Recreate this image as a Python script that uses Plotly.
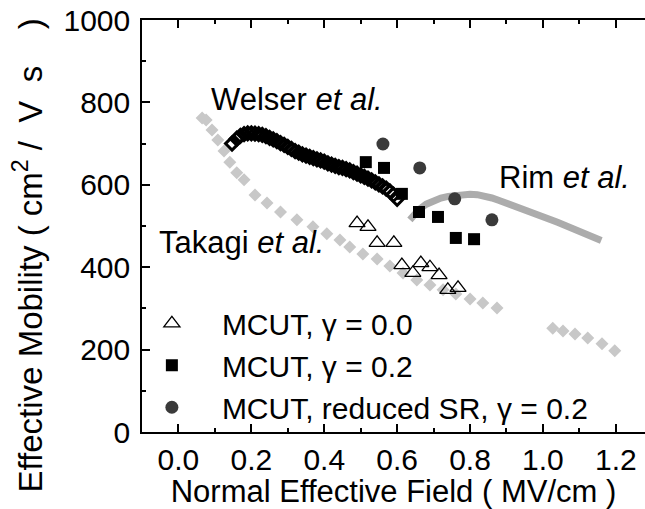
import plotly.graph_objects as go

# ---------------- data ----------------
takagi_x = [0.065, 0.076, 0.092, 0.108, 0.125, 0.141, 0.16, 0.18, 0.21, 0.243, 0.28, 0.325,
            0.369, 0.407, 0.443, 0.47, 0.506, 0.545, 0.58, 0.616, 0.654, 0.69, 0.726,
            0.761, 0.8, 0.835, 0.874, None, 1.027, 1.055, 1.088, 1.123, 1.162, 1.197]
takagi_y = [762, 757, 733, 709, 682, 655, 629, 612, 575, 556, 534, 515,
            498, 481, 466, 449, 432, 420, 403, 386, 369, 357, 345,
            335, 323, 313, 301, None, 252, 245, 238, 228, 214, 197]

welser_x = [0.147, 0.16, 0.17, 0.18, 0.19, 0.20, 0.21, 0.22, 0.23, 0.24, 0.25, 0.26, 0.27,
            0.28, 0.29, 0.30, 0.31, 0.32, 0.33, 0.34, 0.35, 0.36, 0.37, 0.38, 0.39, 0.40,
            0.41, 0.42, 0.43, 0.44, 0.45, 0.46, 0.47, 0.48, 0.49, 0.50, 0.51, 0.52, 0.53,
            0.54, 0.55, 0.56, 0.57, 0.58, 0.59, 0.60]
welser_y = [700, 712, 719, 723, 725, 725, 724, 723, 721, 718, 714, 710, 706,
            701, 697, 692, 687, 682, 678, 674, 671, 668, 665, 662, 659, 656,
            652, 649, 646, 643, 641, 638, 635, 631, 627, 623, 619, 615, 611,
            606, 601, 596, 591, 584, 576, 566]

rim_x = [0.635, 0.66, 0.68, 0.70, 0.72, 0.74, 0.76, 0.78, 0.80, 0.82, 0.84, 0.86, 0.88,
         0.90, 0.92, 0.94, 0.96, 0.98, 1.00, 1.02, 1.04, 1.06, 1.08, 1.10, 1.12, 1.14, 1.16]
rim_y = [515, 540, 553, 562, 568, 572, 575, 577, 577, 576, 573, 568, 562,
         556, 550, 544, 537, 530, 523, 516, 509, 501, 493, 485, 478, 471, 465]

mcut0_x = [0.49, 0.52, 0.545, 0.591, 0.613, 0.643, 0.665, 0.69, 0.715, 0.739, 0.767]
mcut0_y = [507, 498, 459, 459, 405, 386, 410, 400, 381, 345, 350]

mcut2_x = [0.514, 0.564, 0.613, 0.66, 0.712, 0.761, 0.811]
mcut2_y = [655, 641, 578, 534, 522, 471, 468]

mcutsr_x = [0.561, 0.662, 0.758, 0.86]
mcutsr_y = [699, 641, 566, 515]

x_ticks = [0.0, 0.2, 0.4, 0.6, 0.8, 1.0, 1.2]
x_ticklabels = ["0.0", "0.2", "0.4", "0.6", "0.8", "1.0", "1.2"]
y_ticks = [0, 200, 400, 600, 800, 1000]
y_ticklabels = ["0", "200", "400", "600", "800", "1000"]

# ---------------- figure ----------------
FONT = "Liberation Sans, Arial, sans-serif"
NB = "\u00a0"
fig = go.Figure()

fig.add_trace(go.Scatter(x=takagi_x, y=takagi_y, mode="markers", showlegend=False,
                         marker=dict(symbol="diamond", size=10, color="#c8c8c8"),
                         name="Takagi et al."))
fig.add_trace(go.Scatter(x=rim_x, y=rim_y, mode="lines", showlegend=False,
                         line=dict(color="#acacac", width=7), name="Rim et al."))
fig.add_trace(go.Scatter(x=welser_x, y=welser_y, mode="markers", showlegend=False,
                         marker=dict(symbol="diamond-open", size=10, color="black",
                                     line=dict(width=3, color="black")),
                         name="Welser et al."))
fig.add_trace(go.Scatter(x=mcut0_x, y=mcut0_y, mode="markers",
                         name="MCUT, γ = 0.0",
                         marker=dict(symbol="triangle-up-open", size=14, color="black",
                                     line=dict(width=1.3, color="black"))))
fig.add_trace(go.Scatter(x=mcut2_x, y=mcut2_y, mode="markers",
                         name="MCUT, γ = 0.2",
                         marker=dict(symbol="square", size=12, color="black")))
fig.add_trace(go.Scatter(x=mcutsr_x, y=mcutsr_y, mode="markers",
                         name="MCUT, reduced SR, γ = 0.2",
                         marker=dict(symbol="circle", size=13, color="#3a3a3a")))

ann_font = dict(family=FONT, size=31, color="black")
fig.add_annotation(x=0.084, y=806, text="Welser <i>et al.</i>", showarrow=False,
                   xanchor="left", yanchor="middle", font=ann_font)
fig.add_annotation(x=-0.058, y=461, text="Takagi <i>et al.</i>", showarrow=False,
                   xanchor="left", yanchor="middle", font=ann_font)
fig.add_annotation(x=0.874, y=617, text="Rim <i>et al.</i>", showarrow=False,
                   xanchor="left", yanchor="middle", font=ann_font)

# y-axis title (placed as a rotated annotation to match the reference offset)
y_title = "Effective Mobility (" + NB + "cm<sup>2</sup> /" + NB + " V" + NB + " s" + NB * 3 + " )"
fig.add_annotation(xref="paper", yref="paper", x=-0.227, y=0.428, text=y_title,
                   textangle=-90, showarrow=False, xanchor="center", yanchor="middle",
                   font=dict(family=FONT, size=33, color="black"))

axis_common = dict(
    showline=True, linecolor="black", linewidth=1.5,
    ticks="inside", ticklen=8, tickwidth=1.5, tickcolor="black",
    showgrid=False, zeroline=False,
    tickfont=dict(family=FONT, size=30, color="black"),
)

fig.update_xaxes(
    range=[-0.1, 1.28], tickmode="array", tickvals=x_ticks, ticktext=x_ticklabels,
    mirror="ticks",
    minor=dict(dtick=0.1, ticks="inside", ticklen=4, tickwidth=1.5, tickcolor="black"),
    title=dict(text="Normal Effective Field ( MV/cm )", standoff=6,
               font=dict(family=FONT, size=31, color="black")),
    **axis_common,
)
fig.update_yaxes(
    range=[0, 1000], tickmode="array", tickvals=y_ticks, ticktext=y_ticklabels,
    mirror=False,
    minor=dict(dtick=100, ticks="inside", ticklen=4, tickwidth=1.5, tickcolor="black"),
    ticklabelstandoff=4,
    **axis_common,
)

fig.update_layout(
    width=645, height=509,
    margin=dict(l=142, r=0, t=20, b=77),
    paper_bgcolor="white", plot_bgcolor="white",
    font=dict(family=FONT, size=30, color="black"),
    legend=dict(x=-0.04, y=0.327, xanchor="left", yanchor="top",
                bgcolor="rgba(0,0,0,0)", itemwidth=90,
                font=dict(family=FONT, size=30, color="black"),
                tracegroupgap=0),
)

fig.write_html("out.html")
